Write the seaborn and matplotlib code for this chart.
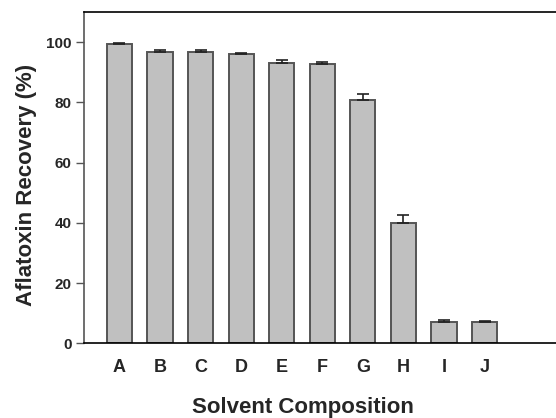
import numpy as np
import pandas as pd
import matplotlib
matplotlib.use('Agg')
import matplotlib.pyplot as plt
import seaborn as sns

solvents = ['A', 'B', 'C', 'D', 'E', 'F', 'G', 'H', 'I', 'J']
recovery = [99.5, 96.6, 96.6, 96.0, 93.1, 92.9, 80.7, 39.9, 7.1, 7.1]
err = [0.2, 0.8, 0.7, 0.5, 1.0, 0.5, 2.2, 2.6, 0.6, 0.4]

df = pd.DataFrame({'Solvent': solvents, 'Recovery': recovery})

sns.set_style('ticks')
plt.rcParams['font.family'] = ['Liberation Sans', 'DejaVu Sans']
plt.rcParams['font.weight'] = 'bold'

fig = plt.figure(figsize=(5.56, 4.18), dpi=100)
W, H = 556, 418
ax = fig.add_axes([84 / W, (H - 343.3) / H, 472 / W, (343.3 - 12) / H])

sns.barplot(data=df, x='Solvent', y='Recovery', color='#c0c0c0', edgecolor='#555555',
            linewidth=1.4, width=0.62, saturation=1, ax=ax)
ax.errorbar(np.arange(len(solvents)), recovery, yerr=[np.zeros(len(err)), err],
            fmt='none', ecolor='#222222', elinewidth=1.2, capsize=4, capthick=1.2, zorder=3)

ax.set_xlim(-0.875, 10.76)
ax.set_ylim(0, 110)
ax.set_yticks(np.arange(0, 101, 20))
ax.tick_params(axis='y', length=6, width=1, labelsize=11, pad=3, color='#555555')
ax.tick_params(axis='x', length=0, labelsize=13, pad=11)
for lab in ax.get_xticklabels() + ax.get_yticklabels():
    lab.set_fontweight('bold')

for s in ['left', 'bottom', 'top']:
    ax.spines[s].set_color('black')
    ax.spines[s].set_linewidth(1.2)
ax.spines['right'].set_visible(False)
ax.spines['left'].set_color('#555555')

ax.set_xlabel('Solvent Composition', fontsize=16, fontweight='bold')
ax.set_ylabel('Aflatoxin Recovery (%)', fontsize=16, fontweight='bold')
ax.xaxis.set_label_coords((303 - 84) / 472, -(397 - 343.3) / (343.3 - 12))
ax.yaxis.set_label_coords(-(84 - 37) / 472, (343.3 - 185) / (343.3 - 12))

fig.savefig('out.png', dpi=100)
